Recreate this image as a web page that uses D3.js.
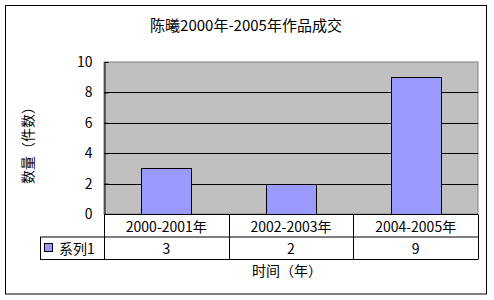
<!DOCTYPE html>
<html lang="zh">
<head>
<meta charset="utf-8" />
<title>陈曦2000年-2005年作品成交</title>
<script src="https://cdn.jsdelivr.net/npm/d3@7/dist/d3.min.js"></script>
<style>
  body { margin: 0; background: #fff; }
  text { font-family: "Noto Sans CJK SC", sans-serif; fill: #000; }
</style>
</head>
<body>
<script>
  // data
  const categories = ["2000-2001年", "2002-2003年", "2004-2005年"];
  const values = [3, 2, 9];
  const seriesName = "系列1";
  const yTicks = [0, 2, 4, 6, 8, 10];
  const title = "陈曦2000年-2005年作品成交";
  const xTitle = "时间（年）";
  const yTitle = "数量（件数）";

  const W = 494, H = 300;
  const plot = {left: 104, right: 478, top: 62, bottom: 214};
  const rowH = 22.5;
  const legendLeft = 40;

  const svg = d3.select("body").append("svg")
      .attr("width", W)
      .attr("height", H);

  // chart area frame
  svg.append("rect")
      .attr("x", 5.5).attr("y", 5.5)
      .attr("width", 481).attr("height", 288.5)
      .attr("fill", "#fff")
      .attr("stroke", "#000");

  svg.append("text")
      .attr("x", 246).attr("y", 24)
      .attr("text-anchor", "middle")
      .attr("dominant-baseline", "central")
      .attr("font-size", 15)
      .text(title);

  let yScale = d3.scaleLinear([0, 10], [plot.bottom, plot.top]);
  let colScale = d3.scaleBand(categories, [plot.left, plot.right]);
  let barScale = d3.scaleBand(categories, [plot.left, plot.right])
      .paddingInner(0.6)
      .paddingOuter(0.3);

  // plot area
  svg.append("rect")
      .attr("x", plot.left).attr("y", plot.top)
      .attr("width", plot.right - plot.left)
      .attr("height", plot.bottom - plot.top)
      .attr("fill", "#c0c0c0")
      .attr("stroke", "#808080");

  svg.append("g")
      .selectAll("line")
      .data(yTicks.filter(t => t > 0 && t < 10))
      .join("line")
      .attr("x1", plot.left).attr("x2", plot.right)
      .attr("y1", d => Math.round(yScale(d)) + 0.5)
      .attr("y2", d => Math.round(yScale(d)) + 0.5)
      .attr("stroke", "#000");

  // value axis
  let yAxisG = svg.append("g")
      .attr("transform", `translate(${plot.left + 0.5},0)`)
      .call(d3.axisLeft(yScale).tickValues(yTicks).tickSize(-4).tickPadding(12));
  yAxisG.select(".domain").attr("stroke", "#000");
  yAxisG.selectAll("line").attr("stroke", "#000");
  yAxisG.selectAll("text")
      .attr("font-size", 14)
      .style("font-family", "Noto Sans CJK SC, sans-serif");

  svg.append("g")
      .selectAll("rect")
      .data(values)
      .join("rect")
      .attr("x", (d, i) => Math.round(barScale(categories[i])) + 0.5)
      .attr("width", Math.round(barScale.bandwidth()))
      .attr("y", d => Math.round(yScale(d)) + 0.5)
      .attr("height", d => plot.bottom - Math.round(yScale(d)))
      .attr("fill", "#9999ff")
      .attr("stroke", "#000");

  // data table
  const table = svg.append("g");
  const t0 = plot.bottom + 0.5, t1 = t0 + rowH, t2 = t1 + rowH;
  const hl = (x1, x2, y) => table.append("line")
      .attr("x1", x1).attr("x2", x2).attr("y1", y).attr("y2", y).attr("stroke", "#000");
  hl(plot.left, plot.right, t0);
  hl(legendLeft, plot.right, t1);
  hl(legendLeft, plot.right, t2);
  table.append("line")
      .attr("x1", legendLeft + 0.5).attr("x2", legendLeft + 0.5)
      .attr("y1", t1).attr("y2", t2).attr("stroke", "#000");
  table.append("line")
      .attr("x1", plot.left + 0.5).attr("x2", plot.left + 0.5)
      .attr("y1", t0).attr("y2", t2).attr("stroke", "#000");
  table.selectAll("line.col")
      .data(categories)
      .join("line")
      .attr("class", "col")
      .attr("x1", d => Math.round(colScale(d) + colScale.bandwidth()) + 0.5)
      .attr("x2", d => Math.round(colScale(d) + colScale.bandwidth()) + 0.5)
      .attr("y1", t0).attr("y2", t2)
      .attr("stroke", "#000");

  table.selectAll("text.cat")
      .data(categories)
      .join("text")
      .attr("class", "cat")
      .attr("x", d => colScale(d) + colScale.bandwidth() / 2)
      .attr("y", (t0 + t1) / 2)
      .attr("text-anchor", "middle")
      .attr("dominant-baseline", "central")
      .attr("font-size", 14)
      .text(d => d);

  table.selectAll("text.val")
      .data(values)
      .join("text")
      .attr("class", "val")
      .attr("x", (d, i) => colScale(categories[i]) + colScale.bandwidth() / 2)
      .attr("y", (t1 + t2) / 2)
      .attr("text-anchor", "middle")
      .attr("dominant-baseline", "central")
      .attr("font-size", 14)
      .text(d => d);

  table.append("rect")
      .attr("x", 44.5).attr("y", 243.5)
      .attr("width", 8).attr("height", 8)
      .attr("fill", "#9999ff")
      .attr("stroke", "#000");
  table.append("text")
      .attr("x", 59).attr("y", (t1 + t2) / 2)
      .attr("dominant-baseline", "central")
      .attr("font-size", 14)
      .text(seriesName);

  svg.append("text")
      .attr("x", 287).attr("y", 270)
      .attr("text-anchor", "middle")
      .attr("dominant-baseline", "central")
      .attr("font-size", 14)
      .text(xTitle);

  svg.append("text")
      .attr("transform", `translate(27,${(plot.top + plot.bottom) / 2 + 4}) rotate(-90)`)
      .attr("text-anchor", "middle")
      .attr("dominant-baseline", "central")
      .attr("font-size", 14)
      .text(yTitle);
</script>
</body>
</html>
